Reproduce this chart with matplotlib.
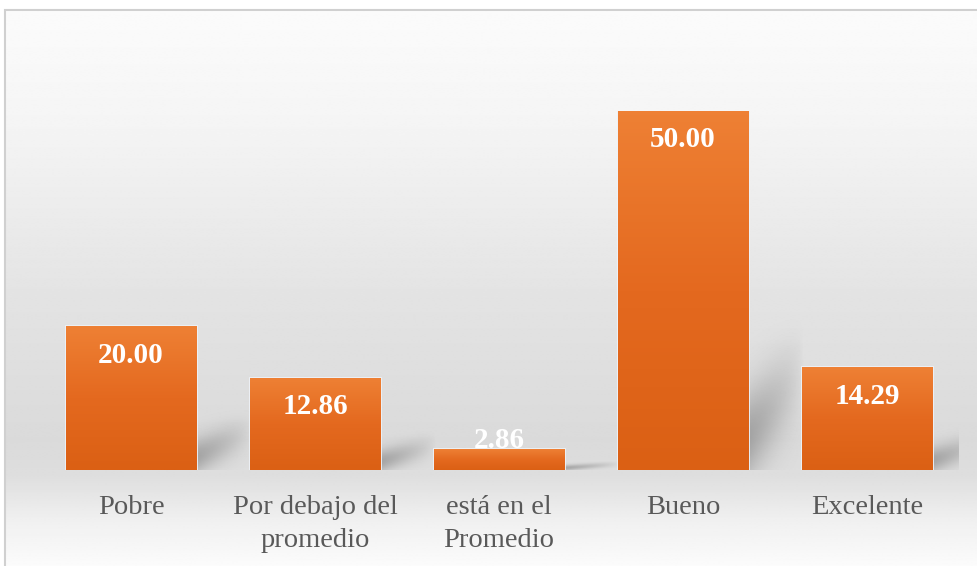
import numpy as np
import matplotlib
matplotlib.use('Agg')
import matplotlib.pyplot as plt
from matplotlib.patches import Rectangle
from matplotlib.colors import LinearSegmentedColormap

categories = ['Pobre', 'Por debajo del\npromedio', 'está en el\nPromedio', 'Bueno', 'Excelente']
values = [20.00, 12.86, 2.86, 50.00, 14.29]

W, H = 977, 566
fig = plt.figure(figsize=(W / 100, H / 100), dpi=100)
fig.patch.set_facecolor('white')

# fondo con degradado vertical dentro del marco
bg = fig.add_axes([5 / W, 0, 1 - 5 / W, (H - 10) / H], zorder=0)
ys = np.array([10, 120, 300, 440, 475, 520, 566])
gs = np.array([0.985, 0.96, 0.89, 0.855, 0.87, 0.94, 0.985])
yy = np.linspace(10, 566, 400)
grad = np.interp(yy, ys, gs)
bg.imshow(np.repeat(grad[:, None], 2, axis=1), cmap='gray', vmin=0, vmax=1,
          aspect='auto', extent=[0, 1, 0, 1], interpolation='bilinear')
bg.axis('off')

# marco
fig.patches.append(Rectangle((5 / W, -0.02), 1, (H - 10) / H + 0.02, transform=fig.transFigure,
                             fill=False, edgecolor='#d0d0d0', linewidth=1.5, zorder=1))

ax = fig.add_axes([39 / W, 96 / H, 920 / W, 359 / H], zorder=2)
ax.patch.set_alpha(0)
x = np.arange(len(values))
width = 0.71
ax.set_xlim(-0.5, len(values) - 0.5)
ax.set_ylim(0, 50)

bars = ax.bar(x, values, width=width, color='#E8722A', edgecolor='#eef2f7',
              linewidth=2, zorder=3)

# sombras en perspectiva
for xi, v in zip(x, values):
    xr = xi + width / 2
    dx = 0.3
    s = 0.3 * v
    u = np.linspace(0, 1, 80)[None, :]
    t = np.linspace(0, 1, 80)[:, None]
    tc = 0.2 + 0.4 * u
    a = 0.5 * np.exp(-((t - tc) / 0.28) ** 2) * (1 - u) ** 0.8
    a *= np.clip((1 - t) / 0.25, 0, 1)
    img = np.zeros((80, 80, 4))
    img[..., :3] = 0.42
    img[..., 3] = a
    ax.imshow(img, extent=[xr, xr + dx, 0, s * 1.5], origin='lower', aspect='auto',
              zorder=1, interpolation='bilinear')

# degradado de las barras
cmap = LinearSegmentedColormap.from_list('naranja', ['#DB6014', '#E4691F', '#EE8034'])
for b in bars:
    x0, y0 = b.get_x(), b.get_y()
    im = ax.imshow(np.linspace(0, 1, 100)[:, None], cmap=cmap, origin='lower', aspect='auto',
                   extent=[x0, x0 + b.get_width(), y0, y0 + b.get_height()], zorder=4)
    im.set_clip_path(b)

for xi, v in zip(x, values):
    ypos = v - 4.0 if v >= 8 else v + 1.3
    ax.text(xi, ypos, f'{v:.2f}', ha='center', va='center', color='white',
            fontsize=21, fontweight='bold', family='Liberation Serif', zorder=6)

ax.set_xticks(x)
ax.set_xticklabels(categories, fontsize=20.5, color='#595959', family='Liberation Serif')
for lab in ax.get_xticklabels():
    lab.set_linespacing(1.4)
ax.tick_params(axis='x', length=0, pad=18)
ax.set_yticks([])
for sp in ax.spines.values():
    sp.set_visible(False)

fig.savefig('out.png', dpi=100)
